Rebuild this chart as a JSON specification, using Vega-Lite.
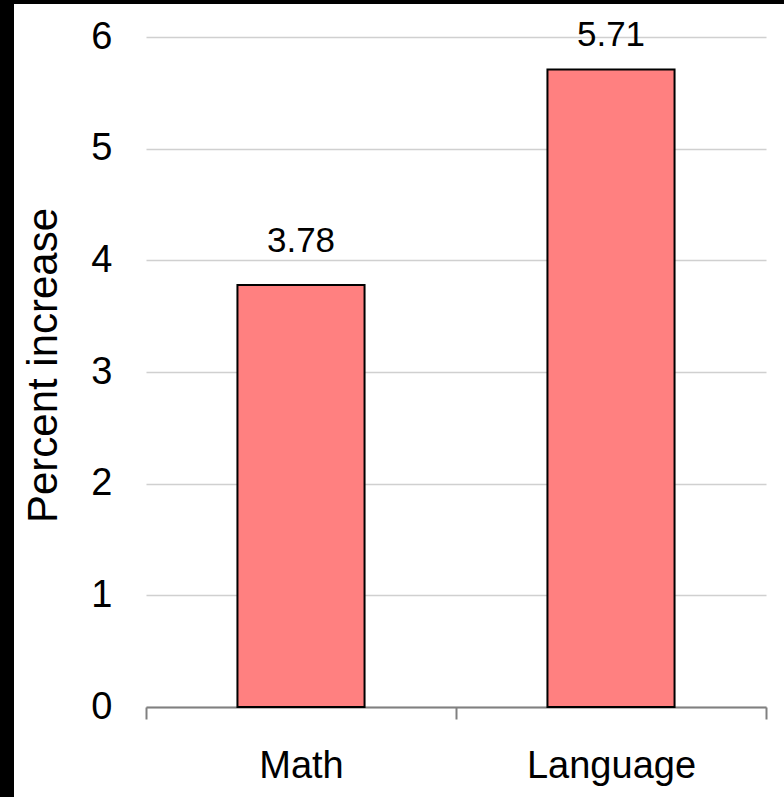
{
  "$schema": "https://vega.github.io/schema/vega-lite/v6.json",
  "width": 770,
  "height": 793,
  "padding": {"left": 14, "top": 4, "right": 0, "bottom": 0},
  "autosize": {"type": "none"},
  "background": "black",
  "config": {
    "view": {"fill": "white", "stroke": null},
    "font": "Liberation Sans"
  },
  "data": {
    "values": [
      {"subject": "Math", "pct": 3.78},
      {"subject": "Language", "pct": 5.71}
    ]
  },
  "encoding": {
    "x": {
      "field": "subject",
      "type": "nominal",
      "sort": ["Math", "Language"],
      "scale": {"range": [132, 752], "paddingInner": 0, "paddingOuter": 0},
      "axis": {
        "title": null,
        "labelAngle": 0,
        "tickBand": "extent",
        "offset": -90,
        "domainColor": "#808080",
        "domainWidth": 2,
        "tickColor": "#808080",
        "tickWidth": 2,
        "tickSize": 12,
        "labelFontSize": 38,
        "labelColor": "black",
        "labelPadding": 28,
        "grid": false
      }
    },
    "y": {
      "field": "pct",
      "type": "quantitative",
      "scale": {"domain": [0, 6], "range": [703, 33], "nice": false},
      "axis": {
        "title": "Percent increase",
        "values": [0, 1, 2, 3, 4, 5, 6],
        "offset": -132,
        "domain": false,
        "ticks": false,
        "tickSize": 0,
        "labelPadding": 34,
        "labelFontSize": 38,
        "labelColor": "black",
        "grid": true,
        "gridColor": "#d0d0d0",
        "gridWidth": 1.5,
        "titleFontSize": 42,
        "titleFontWeight": "normal",
        "titleColor": "black",
        "titlePadding": 25,
        "titleY": 361
      }
    }
  },
  "layer": [
    {
      "mark": {"type": "bar", "fill": "#FF8080", "stroke": "black", "strokeWidth": 2, "width": {"band": 0.41}},
      "encoding": {"y2": {"datum": 0}}
    },
    {
      "transform": [{"filter": "datum.subject === 'Math'"}],
      "mark": {"type": "text", "dy": -33, "baseline": "alphabetic", "fontSize": 35, "color": "black"},
      "encoding": {"text": {"field": "pct", "type": "quantitative", "format": ".2f"}}
    },
    {
      "transform": [{"filter": "datum.subject === 'Language'"}],
      "mark": {"type": "text", "dy": -23, "baseline": "alphabetic", "fontSize": 35, "color": "black"},
      "encoding": {"text": {"field": "pct", "type": "quantitative", "format": ".2f"}}
    }
  ]
}
